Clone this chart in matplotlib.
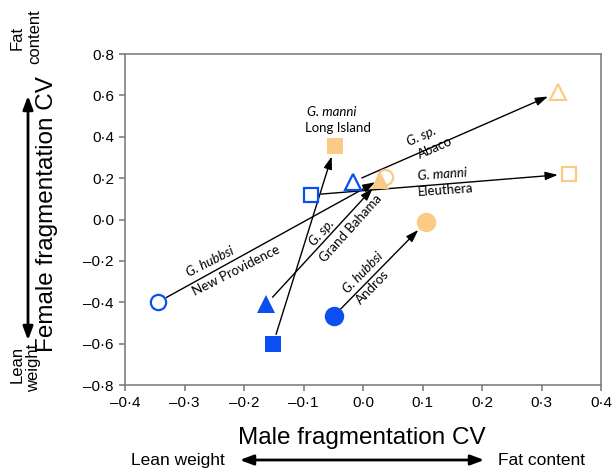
import matplotlib
matplotlib.use("Agg")
import matplotlib.pyplot as plt
from matplotlib.ticker import FixedLocator, FuncFormatter

# ---- data ----
populations = ["New Providence", "Grand Bahama", "Long Island", "Andros", "Abaco", "Eleuthera"]
species = ["G. hubbsi", "G. sp.", "G. manni", "G. hubbsi", "G. sp.", "G. manni"]
lean_x = [-0.345, -0.163, -0.151, -0.049, -0.017, -0.087]
lean_y = [-0.40, -0.41, -0.60, -0.466, 0.182, 0.119]
fat_x = [0.037, 0.029, -0.047, 0.106, 0.328, 0.346]
fat_y = [0.206, 0.190, 0.356, -0.012, 0.616, 0.220]
xticks = [-0.4, -0.3, -0.2, -0.1, 0.0, 0.1, 0.2, 0.3, 0.4]
yticks = [-0.8, -0.6, -0.4, -0.2, 0.0, 0.2, 0.4, 0.6, 0.8]

# ---- style ----
BLUE = "#0b4ff2"
ORANGE = "#fbcb85"
shape = {"New Providence": ("o", False), "Grand Bahama": ("^", True),
         "Long Island": ("s", True), "Andros": ("o", True),
         "Abaco": ("^", False), "Eleuthera": ("s", False)}
msize_filled = {"o": 14, "^": 13.5, "s": 11.5}
msize_open = {"o": 11, "^": 12, "s": 10.5}

plt.rcParams["font.family"] = ["Liberation Sans", "DejaVu Sans"]
fig = plt.figure(figsize=(6.12, 4.69), dpi=100)
ax = fig.add_axes([125/612, 1-385/469, 476/612, 331/469])
ax.set_xlim(-0.4, 0.4)
ax.set_ylim(-0.8, 0.8)

def fmt(v, pos):
    s = f"{abs(v):.1f}".replace(".", "\u00b7")
    return ("\u2013" + s) if v < -1e-9 else s

ax.xaxis.set_major_locator(FixedLocator(xticks))
ax.yaxis.set_major_locator(FixedLocator(yticks))
ax.xaxis.set_major_formatter(FuncFormatter(fmt))
ax.yaxis.set_major_formatter(FuncFormatter(fmt))
for sp in ax.spines.values():
    sp.set_color("#7f7f7f")
    sp.set_linewidth(1.2)
ax.tick_params(direction="out", length=4, width=1.2, color="#7f7f7f",
               labelsize=11, pad=4)

# arrows
for i, p in enumerate(populations):
    ax.annotate("", xy=(fat_x[i], fat_y[i]), xytext=(lean_x[i], lean_y[i]),
                arrowprops=dict(arrowstyle="-|>,head_length=0.75,head_width=0.25",
                                color="black", lw=1.0, mutation_scale=10,
                                shrinkA=7, shrinkB=8), zorder=2)

# markers
for i, p in enumerate(populations):
    m, filled = shape[p]
    for xx, yy, c in ((lean_x[i], lean_y[i], BLUE), (fat_x[i], fat_y[i], ORANGE)):
        if filled:
            ax.plot(xx, yy, marker=m, ms=msize_filled[m], mfc=c, mec=c, mew=0,
                    ls="none", zorder=3)
        else:
            ax.plot(xx, yy, marker=m, ms=msize_open[m], mfc="none", mec=c, mew=1.6,
                    ls="none", zorder=4)

# arrow labels (species italic above, location below)
lab_font = dict(family=["Lato", "DejaVu Sans"], fontsize=9.5)
labels = [
    # (species pos, loc pos, angle)
    ((-0.257, -0.203), (-0.213, -0.245), 27),
    ((-0.069, -0.063), (-0.020, -0.042), 48),
    ((-0.052, 0.522), (-0.042, 0.440), 0),
    ((0.000, -0.258), (0.016, -0.326), 46),
    ((0.099, 0.402), (0.121, 0.345), 24),
    ((0.134, 0.218), (0.138, 0.143), 4),
]
for i, (sp_pos, loc_pos, ang) in enumerate(labels):
    ax.text(*sp_pos, species[i], rotation=ang, style="italic", ha="center", va="center",
            rotation_mode="anchor", **lab_font, zorder=5)
    ax.text(*loc_pos, populations[i], rotation=ang, ha="center", va="center",
            rotation_mode="anchor", **lab_font, zorder=5)

# axis titles and direction annotations
fig.text(362/612, 1-438/469, "Male fragmentation CV", ha="center", va="center", fontsize=17.5)
fig.text(47/612, 1-214/469, "Female fragmentation CV", ha="center", va="center",
         rotation=90, fontsize=17.5)
fig.text(17/612, 1-38/469, "Fat", ha="center", va="center", rotation=90, fontsize=12)
fig.text(35/612, 1-37/469, "content", ha="center", va="center", rotation=90, fontsize=12)
fig.text(17/612, 1-364/469, "Lean", ha="center", va="center", rotation=90, fontsize=12)
fig.text(34/612, 1-368/469, "weight", ha="center", va="center", rotation=90, fontsize=12)
fig.text(178/612, 1-460/469, "Lean weight", ha="center", va="center", fontsize=12.5)
fig.text(541/612, 1-460/469, "Fat content", ha="center", va="center", fontsize=12.5)

fig.patches.append(matplotlib.patches.FancyArrowPatch(
    (237/612, 1-460/469), (487/612, 1-460/469), transform=fig.transFigure,
    arrowstyle="<|-|>,head_length=0.8,head_width=0.3", mutation_scale=10,
    color="black", lw=2.0))
fig.patches.append(matplotlib.patches.FancyArrowPatch(
    (28/612, 1-343/469), (28/612, 1-93/469), transform=fig.transFigure,
    arrowstyle="<|-|>,head_length=0.8,head_width=0.3", mutation_scale=10,
    color="black", lw=2.0))

fig.savefig("out.png", dpi=100)
